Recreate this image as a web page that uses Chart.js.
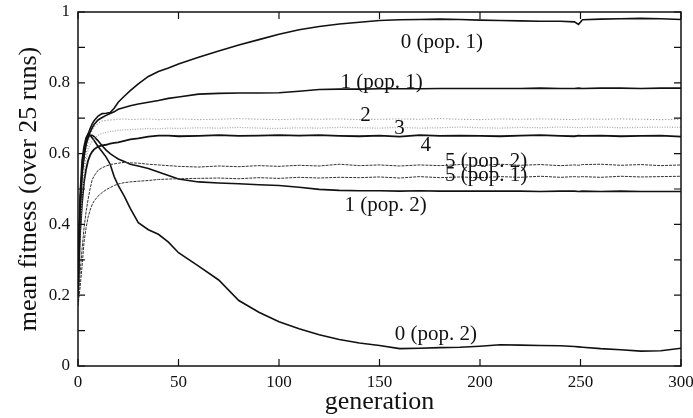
<!DOCTYPE html>
<html>
<head>
<meta charset="utf-8">
<script src="https://cdn.jsdelivr.net/npm/chart.js@4"></script>
<style>
  body { margin: 0; background: #fff; }
  #wrap { width: 693px; height: 418px; }
</style>
</head>
<body>
<div id="wrap"><canvas id="chart"></canvas></div>
<script>
// generations
const gens = [0,1,2,3,4,5,6,7,8,10,12,14,16,18,20,23,26,30,35,40,45,50,60,70,80,90,100,110,120,130,140,150,160,170,180,190,200,210,220,230,240,247,249,251,260,270,280,290,300];

const pop1_0 = [0.20,0.45,0.55,0.60,0.635,0.655,0.67,0.683,0.693,0.706,0.713,0.714,0.716,0.728,0.745,0.762,0.778,0.797,0.818,0.832,0.842,0.853,0.872,0.89,0.907,0.922,0.937,0.95,0.959,0.966,0.971,0.976,0.978,0.979,0.98,0.979,0.977,0.976,0.975,0.974,0.974,0.972,0.965,0.978,0.980,0.981,0.982,0.981,0.979];
const pop1_1 = [0.20,0.44,0.54,0.59,0.625,0.645,0.66,0.672,0.682,0.695,0.702,0.708,0.713,0.718,0.725,0.73,0.735,0.74,0.745,0.75,0.756,0.76,0.768,0.77,0.771,0.771,0.772,0.776,0.781,0.782,0.782,0.783,0.783,0.783,0.784,0.784,0.784,0.784,0.784,0.785,0.784,0.784,0.785,0.784,0.785,0.785,0.784,0.785,0.785];
const s2 = [0.19,0.40,0.50,0.56,0.60,0.63,0.65,0.665,0.675,0.686,0.692,0.694,0.695,0.696,0.697,0.698,0.696,0.697,0.698,0.696,0.697,0.698,0.696,0.697,0.699,0.697,0.696,0.698,0.697,0.698,0.696,0.697,0.698,0.697,0.699,0.697,0.696,0.698,0.697,0.698,0.697,0.696,0.697,0.698,0.697,0.698,0.697,0.696,0.697];
const s3 = [0.19,0.38,0.48,0.54,0.58,0.61,0.625,0.635,0.643,0.652,0.657,0.66,0.662,0.664,0.666,0.667,0.668,0.669,0.671,0.67,0.672,0.671,0.673,0.672,0.674,0.672,0.671,0.673,0.672,0.674,0.673,0.672,0.674,0.672,0.673,0.675,0.673,0.672,0.674,0.673,0.675,0.674,0.673,0.674,0.675,0.673,0.674,0.675,0.674];
const s4 = [0.20,0.37,0.46,0.52,0.555,0.58,0.595,0.605,0.612,0.62,0.623,0.625,0.628,0.63,0.632,0.636,0.64,0.643,0.648,0.651,0.651,0.649,0.65,0.652,0.65,0.651,0.652,0.651,0.652,0.65,0.649,0.651,0.648,0.652,0.65,0.651,0.65,0.649,0.651,0.652,0.65,0.649,0.651,0.65,0.651,0.649,0.65,0.651,0.648];
const pop2_5 = [0.18,0.26,0.33,0.39,0.435,0.47,0.50,0.525,0.537,0.553,0.56,0.565,0.569,0.571,0.573,0.575,0.574,0.573,0.57,0.568,0.566,0.564,0.562,0.565,0.563,0.566,0.564,0.567,0.565,0.57,0.566,0.568,0.565,0.568,0.566,0.569,0.566,0.57,0.567,0.569,0.566,0.568,0.567,0.569,0.57,0.567,0.569,0.566,0.568];
const pop1_5 = [0.17,0.22,0.28,0.35,0.39,0.42,0.44,0.455,0.466,0.48,0.49,0.498,0.504,0.51,0.514,0.518,0.52,0.522,0.524,0.527,0.528,0.529,0.53,0.531,0.529,0.532,0.53,0.533,0.531,0.533,0.532,0.534,0.531,0.535,0.532,0.534,0.532,0.535,0.533,0.536,0.533,0.535,0.534,0.535,0.533,0.536,0.534,0.535,0.536];
const pop2_1 = [0.22,0.45,0.55,0.60,0.63,0.645,0.652,0.652,0.648,0.636,0.622,0.61,0.60,0.592,0.585,0.578,0.57,0.565,0.558,0.548,0.538,0.528,0.52,0.517,0.515,0.512,0.51,0.505,0.499,0.496,0.495,0.495,0.494,0.495,0.494,0.494,0.494,0.494,0.494,0.493,0.494,0.494,0.493,0.494,0.493,0.494,0.493,0.493,0.493];
const pop2_0 = [0.22,0.48,0.58,0.62,0.645,0.655,0.652,0.645,0.637,0.62,0.605,0.59,0.57,0.535,0.51,0.48,0.445,0.405,0.385,0.372,0.35,0.32,0.282,0.243,0.185,0.152,0.125,0.105,0.088,0.075,0.065,0.058,0.049,0.05,0.052,0.053,0.056,0.06,0.059,0.058,0.057,0.055,0.054,0.053,0.049,0.046,0.042,0.043,0.05];

const xTicks = [0, 50, 100, 150, 200, 250, 300];
const yLabels = [0, 0.2, 0.4, 0.6, 0.8, 1];

// curve names written inside the plot, anchored at data coordinates
const notes = [
  { text: "0 (pop. 1)", x: 181, y: 0.914 },
  { text: "1 (pop. 1)", x: 151, y: 0.80 },
  { text: "2", x: 143, y: 0.708 },
  { text: "3", x: 160, y: 0.671 },
  { text: "4", x: 173, y: 0.623 },
  { text: "5 (pop. 2)", x: 203, y: 0.577 },
  { text: "5 (pop. 1)", x: 203, y: 0.538 },
  { text: "1 (pop. 2)", x: 153, y: 0.454 },
  { text: "0 (pop. 2)", x: 178, y: 0.088 }
];

const SERIF = "'Liberation Serif', 'DejaVu Serif', serif";

function pts(vals) {
  return vals.map((v, i) => ({ x: gens[i], y: v }));
}

function line(label, vals, color, width, dash) {
  return {
    label: label,
    data: pts(vals),
    borderColor: color,
    borderWidth: width,
    borderDash: dash || [],
    pointRadius: 0,
    tension: 0,
    fill: false
  };
}

const frame = {
  id: "frame",
  afterDraw(chart) {
    const ctx = chart.ctx;
    const a = chart.chartArea;
    const xs = chart.scales.x;
    const ys = chart.scales.y;
    ctx.save();
    ctx.strokeStyle = "#111";
    ctx.lineWidth = 1.5;
    ctx.strokeRect(a.left, a.top, a.right - a.left, a.bottom - a.top);
    ctx.lineWidth = 1.2;
    ctx.beginPath();
    for (const t of xTicks) {
      const px = xs.getPixelForValue(t);
      ctx.moveTo(px, a.bottom); ctx.lineTo(px, a.bottom - 7);
      ctx.moveTo(px, a.top); ctx.lineTo(px, a.top + 7);
    }
    for (const t of ys.ticks) {
      const py = ys.getPixelForValue(t.value);
      ctx.moveTo(a.left, py); ctx.lineTo(a.left + 7, py);
      ctx.moveTo(a.right, py); ctx.lineTo(a.right - 7, py);
    }
    ctx.stroke();

    ctx.fillStyle = "#111";
    ctx.font = "21px " + SERIF;
    ctx.textAlign = "center";
    ctx.textBaseline = "middle";
    for (const n of notes) {
      ctx.fillText(n.text, xs.getPixelForValue(n.x), ys.getPixelForValue(n.y));
    }
    ctx.restore();
  }
};

new Chart(document.getElementById("chart"), {
  type: "line",
  data: {
    datasets: [
      line("0 (pop. 1)", pop1_0, "#111", 1.6),
      line("1 (pop. 1)", pop1_1, "#111", 1.6),
      line("2", s2, "#888", 1.1, [1, 2]),
      line("3", s3, "#aaa", 1.3, [1, 1.5]),
      line("4", s4, "#111", 1.8),
      line("5 (pop. 2)", pop2_5, "#333", 1, [3, 1]),
      line("5 (pop. 1)", pop1_5, "#333", 1, [3, 1]),
      line("1 (pop. 2)", pop2_1, "#111", 1.6),
      line("0 (pop. 2)", pop2_0, "#111", 1.6)
    ]
  },
  options: {
    responsive: true,
    maintainAspectRatio: false,
    animation: false,
    layout: { padding: { top: 12, right: 12, left: 0, bottom: 0 } },
    plugins: {
      legend: { display: false },
      tooltip: { enabled: false }
    },
    scales: {
      x: {
        type: "linear",
        min: 0,
        max: 300,
        afterFit(scale) {
          scale.height = 52;
          scale.paddingLeft = 0;
          scale.paddingRight = 0;
        },
        afterBuildTicks(scale) { scale.ticks = xTicks.map(v => ({ value: v })); },
        grid: { display: false, drawTicks: false },
        border: { display: false },
        ticks: {
          padding: 6,
          color: "#111",
          maxRotation: 0,
          font: { family: SERIF, size: 17 }
        },
        title: {
          display: true,
          text: "generation",
          color: "#111",
          padding: { top: 0, bottom: 0 },
          font: { family: SERIF, size: 26 }
        }
      },
      y: {
        min: 0,
        max: 1,
        afterFit(scale) {
          scale.width = 78;
          scale.paddingTop = 0;
          scale.paddingBottom = 0;
        },
        grid: { display: false, drawTicks: false },
        border: { display: false },
        ticks: {
          stepSize: 0.1,
          padding: 8,
          color: "#111",
          font: { family: SERIF, size: 17 },
          callback(v) {
            const r = Math.round(v * 10) / 10;
            return yLabels.some(l => Math.abs(l - r) < 1e-9) ? String(r) : "";
          }
        },
        title: {
          display: true,
          text: "mean fitness (over 25 runs)",
          color: "#111",
          padding: { top: 14, bottom: 0 },
          font: { family: SERIF, size: 26 }
        }
      }
    }
  },
  plugins: [frame]
});
</script>
</body>
</html>
